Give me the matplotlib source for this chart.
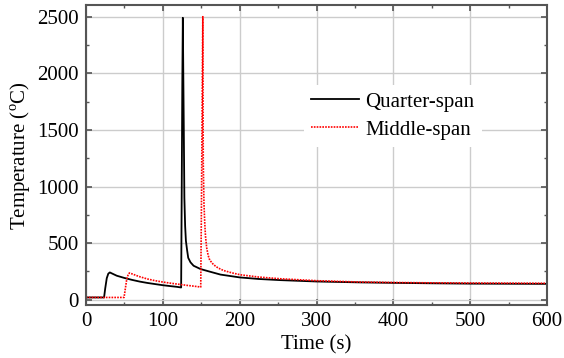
import numpy as np
import matplotlib
matplotlib.use("Agg")
import matplotlib.pyplot as plt
from matplotlib.ticker import MultipleLocator

# data
# Quarter-span (black, solid)
time_quarter = [0, 23.5, 25, 27, 29, 31, 35, 40, 50, 60, 70, 80, 90, 100, 110, 118,
                123.8, 124.5, 125.3, 126, 126.6, 127.3, 128, 129, 130, 131.5, 133,
                136, 140, 149, 160, 175, 200, 225, 253, 300, 357, 400, 450, 500,
                550, 600]
temp_quarter = [20, 20, 100, 190, 230, 241, 228, 212, 192, 175, 160, 148, 138, 128,
                120, 114, 108, 900, 1900, 2490, 2000, 1470, 900, 650, 520, 440, 370,
                330, 300, 271, 250, 222, 197, 183, 173, 161, 153, 149, 145, 142,
                141, 140]

# Middle-span (red, dotted)
time_middle = [0, 49.5, 51, 53, 55, 56.5, 60, 65, 70, 80, 90, 100, 110, 120, 130,
               140, 149.3, 150.3, 151.3, 152, 152.3, 152.6, 153.5, 154.5, 155.5, 157,
               159, 161, 166, 172, 179, 190, 201, 225, 253, 300, 357, 400, 450, 500,
               550, 600]
temp_middle = [20, 20, 90, 180, 225, 236, 228, 215, 203, 183, 168, 156, 146, 137,
               128, 120, 112, 900, 1900, 2500, 1800, 1200, 850, 680, 560, 460, 390,
               350, 309, 280, 258, 237, 220, 200, 185, 168, 156, 152, 149, 147, 146,
               145]

plt.rcParams['font.family'] = ['Liberation Serif', 'DejaVu Serif']
plt.rcParams['mathtext.fontset'] = 'custom'
plt.rcParams['mathtext.rm'] = 'Liberation Serif'
plt.rcParams['font.size'] = 15

spine_col = '#555555'

fig = plt.figure(figsize=(5.64, 3.58), dpi=100)
ax = fig.add_axes([0.1525, 0.147, 0.8175, 0.838])

ax.plot(time_quarter, temp_quarter, color='black', lw=1.3, label='Quarter-span')
ax.plot(time_middle, temp_middle, color='red', lw=1.2, linestyle=(0, (1, 0.7)),
        label='Middle-span')

ax.set_xlim(0, 600)
ax.set_ylim(-50, 2600)
ax.xaxis.set_major_locator(MultipleLocator(100))
ax.xaxis.set_minor_locator(MultipleLocator(50))
ax.yaxis.set_major_locator(MultipleLocator(500))
ax.yaxis.set_minor_locator(MultipleLocator(250))

ax.grid(True, which='major', color='#cccccc', lw=1.0)
ax.set_axisbelow(True)

for sp in ax.spines.values():
    sp.set_color(spine_col)
    sp.set_linewidth(1.5)
ax.tick_params(which='both', direction='in', top=True, right=True, color=spine_col)
ax.tick_params(which='major', length=4, width=1.2, labelsize=15, pad=5)
ax.tick_params(which='minor', length=2.5, width=1.0)

ax.set_xlabel('Time (s)', fontsize=15, labelpad=3)
ax.set_ylabel('Temperature ($^\\mathrm{o}$C)', fontsize=15, labelpad=3)

leg = ax.legend(loc='upper left', bbox_to_anchor=(0.473, 0.735), borderaxespad=0,
                frameon=True, fancybox=False, facecolor='white', edgecolor='none',
                framealpha=1, fontsize=15, handlelength=2.3, handletextpad=0.3,
                labelspacing=0.4, borderpad=0.35)

fig.savefig('out.png', dpi=100)
